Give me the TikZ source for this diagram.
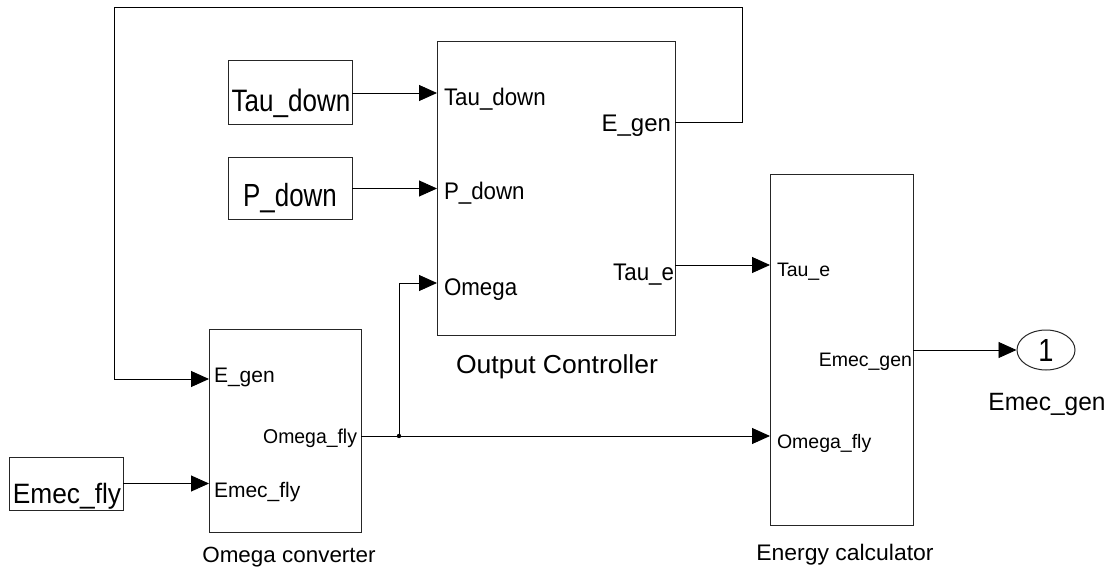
\documentclass[tikz,border=0pt]{standalone}
\usepackage{fontspec}
\setmainfont{Liberation Sans}
\usetikzlibrary{arrows.meta,shapes.geometric}
\newcommand{\fsz}[1]{\fontsize{#1}{#1}\selectfont}
\newcommand{\sx}[2]{\scalebox{#1}[1]{#2}}
\begin{document}
\begin{tikzpicture}[x=1pt,y=-1pt,
  blk/.style={draw=black!85,line width=1pt,rectangle,inner sep=0,outer sep=0,anchor=north west},
  wire/.style={line width=0.9pt,black},
  arr/.style={wire,-{Triangle[length=18pt,width=16pt]}},
  txt/.style={inner sep=0,outer sep=0}]
\useasboundingbox (0,0) rectangle (1113,572);

% blocks
\node[blk,minimum width=124,minimum height=64] (tausrc) at (228,61) {};
\node[blk,minimum width=124,minimum height=61] (psrc) at (228,158) {};
\node[blk,minimum width=114,minimum height=53] (emsrc) at (9,457) {};
\node[blk,minimum width=238,minimum height=293] (oc) at (437,42) {};
\node[blk,minimum width=152,minimum height=203] (om) at (209,329) {};
\node[blk,minimum width=143,minimum height=350] (ec) at (770,175) {};
\node[draw=black!85,line width=1pt,ellipse,minimum width=58,minimum height=40,inner sep=0,font=\fsz{32}] (out) at (1046,350) {\sx{0.85}{1}};

% source texts
\node[txt,anchor=base,font=\fsz{31}] (tautx) at (291,112) {\sx{0.84}{Tau\_down}};
\node[txt,anchor=base,font=\fsz{32}] (ptx) at (290,207) {\sx{0.81}{P\_down}};
\node[txt,anchor=base,font=\fsz{28}] (emtx) at (67,503) {\sx{0.94}{Emec\_fly}};

% block labels
\node[txt,anchor=base,font=\fsz{26}] (ocname) at (557,373) {\sx{1.02}{Output Controller}};
\node[txt,anchor=base,font=\fsz{22}] (omname) at (289,562) {\sx{1.02}{Omega converter}};
\node[txt,anchor=base,font=\fsz{22.5}] (ecname) at (845,560) {\sx{1.02}{Energy calculator}};
\node[txt,anchor=base,font=\fsz{25}] (outname) at (1047,410) {\sx{0.98}{Emec\_gen}};

% port labels: Output Controller
\node[txt,anchor=base west,font=\fsz{24}] (ocl1) at (444,106) {\sx{0.93}{Tau\_down}};
\node[txt,anchor=base west,font=\fsz{24}] (ocl2) at (444,200) {\sx{0.93}{P\_down}};
\node[txt,anchor=base west,font=\fsz{24}] (ocl3) at (444,295) {\sx{0.93}{Omega}};
\node[txt,anchor=base east,font=\fsz{24}] (ocr1) at (671,132) {\sx{1.0}{E\_gen}};
\node[txt,anchor=base east,font=\fsz{24}] (ocr2) at (674,280) {\sx{0.93}{Tau\_e}};

% port labels: Omega converter
\node[txt,anchor=base west,font=\fsz{21}] (oml1) at (214,382) {E\_gen};
\node[txt,anchor=base west,font=\fsz{21}] (oml2) at (214,497) {Emec\_fly};
\node[txt,anchor=base east,font=\fsz{20}] (omr1) at (357,443) {\sx{0.97}{Omega\_fly}};

% port labels: Energy calculator
\node[txt,anchor=base west,font=\fsz{19.5}] (ecl1) at (777,276) {Tau\_e};
\node[txt,anchor=base west,font=\fsz{19.5}] (ecl2) at (777,448) {Omega\_fly};
\node[txt,anchor=base east,font=\fsz{19.5}] (ecr1) at (912,366) {Emec\_gen};

% port coordinates
\coordinate (ocIn1) at (oc.west |- tausrc.east);
\coordinate (ocIn2) at (oc.west |- psrc.east);
\coordinate (ocIn3) at (437,283);
\coordinate (ocOut1) at (675,122);
\coordinate (ocOut2) at (675,265);
\coordinate (omIn1) at (209,379);
\coordinate (omIn2) at (om.west |- emsrc.east);
\coordinate (omOut) at (361,436);
\coordinate (ecIn1) at (770,265);
\coordinate (ecIn2) at (770,436);
\coordinate (ecOut) at (913,350);
\coordinate (fbA) at (742,7);
\coordinate (fbB) at (114,7);
\coordinate (jn) at (399,436);

% connectors
\draw[arr] (tausrc.east) -- (ocIn1);
\draw[arr] (psrc.east) -- (ocIn2);
\draw[arr] (emsrc.east) -- (omIn2);
\draw[arr] (ocOut2) -- (ecIn1);
\draw[arr] (ecOut) -- (out.west);
\draw[arr] (ocOut1) -| (fbA) -- (fbB) |- (omIn1);
\draw[arr] (omOut) -- (ecIn2);
\draw[arr] (jn) |- (ocIn3);
\fill (jn) circle (2.2);
\end{tikzpicture}
\end{document}
